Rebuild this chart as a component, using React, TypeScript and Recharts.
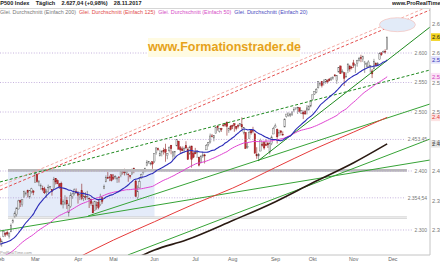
import React from "react";
import {
  ComposedChart,
  Bar,
  Line,
  XAxis,
  YAxis,
  ReferenceLine,
  ReferenceArea,
  ReferenceDot,
} from "recharts";

// closes Nov 2016 - Jan 2017, only used to seed the 20/50 day averages
const histCloses = [
  2111.72, 2097.94, 2088.66, 2085.18, 2131.52, 2139.56, 2163.26, 2167.48, 2164.45, 2164.2, 2180.39,
  2176.94, 2187.12, 2181.9, 2198.18, 2202.94, 2204.72, 2213.35, 2201.72, 2204.66, 2198.81,
  2191.08, 2191.95, 2204.71, 2212.23, 2241.35, 2246.19, 2259.53, 2256.96, 2271.72, 2253.28, 2262.03,
  2258.07, 2262.53, 2270.76, 2265.18, 2260.96, 2263.79, 2268.88, 2249.92, 2249.26, 2238.83,
  2257.83, 2270.75, 2269.0, 2276.98, 2268.9, 2268.9, 2275.32, 2270.44, 2274.64, 2267.89, 2271.89,
  2263.69, 2271.31, 2265.2, 2280.07, 2298.37, 2296.68, 2294.69, 2280.9, 2278.87,
];

// SP500 daily candles 01.02.2017 - 28.11.2017: [open, high, low, close]
const candles: number[][] = [
  // Feb
  [2285.6, 2289.1, 2272.4, 2279.6], [2276.7, 2284.0, 2271.7, 2280.9], [2288.5, 2298.3, 2287.9, 2297.4],
  [2294.3, 2296.2, 2288.6, 2292.6], [2295.9, 2299.4, 2290.2, 2293.1], [2289.6, 2295.9, 2285.4, 2294.7],
  [2296.7, 2311.1, 2296.6, 2307.9], [2312.3, 2319.2, 2311.1, 2316.1], [2321.7, 2331.6, 2321.4, 2328.3],
  [2326.1, 2337.6, 2322.2, 2337.6], [2335.6, 2351.3, 2334.8, 2349.3], [2349.6, 2351.3, 2338.9, 2347.2],
  [2343.0, 2351.2, 2339.6, 2351.2], [2354.9, 2366.7, 2354.9, 2365.4], [2361.1, 2365.1, 2358.3, 2362.8],
  [2367.5, 2368.3, 2355.1, 2363.8], [2355.7, 2367.3, 2352.9, 2367.3], [2365.2, 2371.5, 2361.9, 2369.8],
  [2366.1, 2367.8, 2359.0, 2363.6],
  // Mar
  [2380.1, 2401.0, 2380.1, 2396.0], [2394.8, 2394.8, 2380.2, 2381.9], [2380.9, 2383.9, 2374.4, 2383.1],
  [2375.2, 2378.8, 2368.0, 2375.3], [2370.7, 2375.1, 2365.5, 2368.4], [2369.8, 2373.1, 2361.0, 2363.0],
  [2363.5, 2369.1, 2354.5, 2364.9], [2372.5, 2376.9, 2363.0, 2372.6], [2371.6, 2374.4, 2368.5, 2373.5],
  [2368.6, 2368.6, 2358.2, 2365.5], [2370.3, 2390.0, 2368.9, 2385.3], [2387.7, 2388.1, 2377.2, 2381.4],
  [2383.7, 2385.7, 2377.6, 2378.3], [2378.2, 2379.6, 2369.7, 2373.5], [2379.3, 2381.9, 2341.9, 2344.0],
  [2343.0, 2351.8, 2336.5, 2348.5], [2346.0, 2358.9, 2342.1, 2346.0], [2350.4, 2356.2, 2335.7, 2344.0],
  [2329.1, 2344.9, 2322.3, 2341.6], [2339.8, 2363.8, 2337.6, 2358.6], [2356.5, 2363.4, 2352.9, 2361.1],
  [2361.3, 2370.4, 2358.6, 2368.1], [2364.8, 2370.4, 2362.6, 2362.7],
  // Apr
  [2362.3, 2365.9, 2344.7, 2358.8], [2354.8, 2360.5, 2350.7, 2360.2], [2366.6, 2378.4, 2350.5, 2353.0],
  [2353.8, 2364.2, 2348.9, 2357.5], [2356.6, 2363.8, 2350.7, 2355.5], [2357.2, 2366.4, 2351.5, 2357.2],
  [2353.9, 2355.2, 2337.3, 2353.8], [2352.2, 2352.7, 2341.2, 2344.9], [2342.0, 2348.3, 2329.0, 2329.0],
  [2332.6, 2349.1, 2332.5, 2349.0], [2342.5, 2348.4, 2334.5, 2342.2], [2346.8, 2352.6, 2335.1, 2338.2],
  [2342.7, 2361.4, 2340.9, 2355.8], [2354.7, 2356.2, 2344.5, 2348.7], [2370.3, 2377.0, 2369.2, 2374.2],
  [2381.5, 2392.5, 2381.2, 2388.6], [2389.0, 2398.2, 2386.8, 2387.5], [2389.7, 2392.1, 2382.7, 2388.8],
  [2393.7, 2393.7, 2382.4, 2384.2],
  // Mai
  [2388.5, 2394.5, 2384.8, 2388.3], [2391.1, 2392.9, 2385.8, 2391.2], [2386.5, 2389.8, 2379.8, 2388.1],
  [2389.8, 2391.4, 2380.4, 2389.5], [2392.4, 2399.3, 2389.4, 2399.3], [2399.9, 2401.4, 2393.9, 2399.4],
  [2401.6, 2403.9, 2392.4, 2396.9], [2396.8, 2399.7, 2392.8, 2399.6], [2394.8, 2395.7, 2381.7, 2394.4],
  [2392.4, 2392.4, 2387.2, 2390.9], [2394.0, 2404.1, 2393.9, 2402.3], [2404.6, 2405.8, 2396.1, 2400.7],
  [2383.0, 2384.9, 2356.2, 2357.0], [2354.7, 2375.7, 2352.7, 2365.7], [2371.4, 2389.1, 2370.4, 2381.7],
  [2387.2, 2395.5, 2386.9, 2394.0], [2397.0, 2400.9, 2393.9, 2398.4], [2401.4, 2405.6, 2398.0, 2404.4],
  [2409.5, 2418.7, 2408.0, 2415.1], [2414.5, 2416.7, 2412.2, 2415.8], [2411.7, 2415.3, 2409.4, 2412.9],
  [2415.6, 2416.0, 2403.6, 2411.8],
  // Jun
  [2415.7, 2430.1, 2413.5, 2430.1], [2431.3, 2440.2, 2427.7, 2439.1], [2437.8, 2439.6, 2434.3, 2436.1],
  [2425.4, 2436.2, 2425.4, 2429.3], [2432.0, 2435.3, 2424.8, 2433.1], [2434.3, 2439.3, 2427.9, 2433.8],
  [2436.4, 2446.2, 2415.7, 2431.8], [2425.9, 2430.4, 2420.0, 2429.4], [2434.2, 2441.5, 2431.3, 2440.4],
  [2443.8, 2443.8, 2428.3, 2437.9], [2424.1, 2434.0, 2418.5, 2432.5], [2431.2, 2433.2, 2422.9, 2433.2],
  [2442.6, 2453.8, 2441.8, 2453.5], [2450.7, 2450.7, 2436.6, 2437.0], [2439.3, 2442.2, 2430.7, 2435.6],
  [2437.4, 2441.6, 2433.3, 2434.5], [2434.7, 2441.4, 2431.1, 2438.3], [2443.3, 2450.4, 2437.0, 2439.1],
  [2436.3, 2440.2, 2419.4, 2419.4], [2428.7, 2443.0, 2428.0, 2440.7], [2442.4, 2442.7, 2405.7, 2419.7],
  [2429.2, 2432.7, 2421.7, 2423.4],
  // Jul
  [2431.4, 2439.2, 2428.7, 2429.0], [2430.8, 2434.9, 2422.1, 2432.5], [2423.4, 2424.3, 2407.7, 2409.8],
  [2413.5, 2426.9, 2413.5, 2425.2], [2424.5, 2432.0, 2422.3, 2427.4], [2427.4, 2429.3, 2412.8, 2425.5],
  [2435.8, 2445.8, 2435.8, 2443.3], [2445.0, 2449.3, 2441.7, 2447.8], [2449.2, 2463.5, 2446.7, 2459.3],
  [2459.5, 2462.8, 2457.2, 2459.1], [2455.9, 2460.9, 2450.3, 2460.6], [2463.9, 2473.8, 2463.9, 2473.8],
  [2475.6, 2477.6, 2468.4, 2473.5], [2467.4, 2472.5, 2465.1, 2472.5], [2472.0, 2473.1, 2466.3, 2469.9],
  [2477.9, 2481.2, 2474.9, 2477.1], [2480.0, 2481.7, 2474.9, 2477.8], [2482.8, 2484.0, 2459.9, 2475.4],
  [2469.1, 2473.5, 2464.7, 2472.1], [2475.9, 2478.0, 2468.5, 2470.3],
  // Aug
  [2477.1, 2478.5, 2471.1, 2476.4], [2480.4, 2480.4, 2466.5, 2477.6], [2476.0, 2476.0, 2468.9, 2472.2],
  [2476.9, 2480.0, 2472.1, 2476.8], [2477.1, 2481.0, 2475.9, 2480.9], [2478.4, 2490.9, 2470.3, 2474.9],
  [2465.4, 2474.4, 2462.1, 2474.0], [2465.4, 2465.4, 2437.8, 2438.2], [2441.0, 2448.1, 2437.9, 2441.3],
  [2455.0, 2468.2, 2455.0, 2465.8], [2468.7, 2468.9, 2461.6, 2464.6], [2468.6, 2474.9, 2463.9, 2468.1],
  [2463.0, 2465.0, 2430.0, 2430.0], [2427.6, 2440.3, 2420.7, 2425.6], [2425.5, 2430.6, 2417.4, 2428.4],
  [2433.8, 2454.8, 2433.7, 2452.5], [2444.9, 2448.9, 2441.4, 2444.0], [2447.9, 2450.4, 2436.2, 2439.0],
  [2444.7, 2454.0, 2442.2, 2443.1], [2447.4, 2449.1, 2439.0, 2444.2], [2431.9, 2449.2, 2428.2, 2446.3],
  [2446.1, 2460.3, 2443.8, 2457.6], [2462.7, 2475.0, 2462.7, 2471.7],
  // Sep
  [2474.4, 2480.4, 2473.9, 2476.6], [2470.4, 2472.0, 2446.6, 2457.9], [2463.8, 2469.6, 2459.2, 2465.5],
  [2468.1, 2468.6, 2460.3, 2465.1], [2462.3, 2467.1, 2459.4, 2461.4], [2474.5, 2489.0, 2474.5, 2488.1],
  [2491.9, 2496.8, 2490.4, 2496.5], [2493.9, 2498.4, 2492.1, 2498.4], [2494.6, 2498.4, 2491.4, 2495.6],
  [2495.7, 2500.2, 2493.2, 2500.2], [2502.5, 2508.3, 2499.9, 2503.9], [2506.3, 2507.8, 2503.2, 2506.7],
  [2506.8, 2508.9, 2496.7, 2508.2], [2507.2, 2507.2, 2499.0, 2500.6], [2497.3, 2503.5, 2496.5, 2502.2],
  [2499.4, 2502.5, 2488.0, 2496.7], [2501.0, 2503.5, 2495.1, 2496.8], [2503.3, 2511.8, 2495.9, 2507.0],
  [2503.4, 2510.8, 2502.9, 2510.1], [2510.0, 2519.4, 2508.0, 2519.4],
  // Okt
  [2521.2, 2529.2, 2520.4, 2529.1], [2530.3, 2535.1, 2528.9, 2534.6], [2533.5, 2540.5, 2531.8, 2537.7],
  [2540.9, 2552.5, 2540.0, 2552.1], [2547.4, 2549.4, 2543.8, 2549.3], [2551.4, 2551.8, 2541.6, 2544.7],
  [2550.0, 2555.2, 2544.9, 2550.6], [2550.6, 2555.2, 2548.0, 2555.2], [2552.9, 2555.3, 2548.3, 2550.9],
  [2555.7, 2557.7, 2552.1, 2553.2], [2555.6, 2559.5, 2552.6, 2557.6], [2557.2, 2559.7, 2554.7, 2559.4],
  [2562.9, 2564.1, 2559.7, 2561.3], [2553.4, 2562.4, 2547.9, 2562.1], [2567.6, 2575.4, 2567.6, 2575.2],
  [2578.1, 2578.3, 2564.3, 2565.0], [2568.7, 2572.2, 2565.6, 2569.1], [2566.5, 2567.4, 2544.0, 2557.2],
  [2560.1, 2567.1, 2559.8, 2560.4], [2570.3, 2583.0, 2565.9, 2581.1], [2577.8, 2580.0, 2568.3, 2572.8],
  [2576.0, 2578.3, 2572.2, 2575.3],
  // Nov
  [2583.2, 2588.4, 2574.9, 2579.4], [2579.5, 2581.1, 2566.2, 2579.9], [2581.9, 2588.4, 2576.8, 2587.8],
  [2587.5, 2593.4, 2585.7, 2591.1], [2592.1, 2597.0, 2584.4, 2590.6], [2588.7, 2595.5, 2585.0, 2594.4],
  [2584.0, 2586.5, 2566.3, 2584.6], [2580.2, 2583.8, 2575.6, 2582.3], [2576.5, 2587.7, 2574.5, 2584.8],
  [2577.8, 2579.7, 2566.6, 2578.9], [2569.5, 2572.8, 2557.5, 2564.6], [2573.0, 2590.1, 2573.0, 2585.6],
  [2582.9, 2584.0, 2577.6, 2578.9], [2579.5, 2584.6, 2578.2, 2582.1], [2589.2, 2601.2, 2589.2, 2599.0],
  [2600.3, 2600.9, 2595.2, 2597.1], [2600.4, 2604.2, 2600.4, 2602.4], [2602.7, 2606.4, 2598.9, 2601.4],
  [2605.9, 2627.7, 2605.4, 2627.0],
];

const monthTicks = [0, 19, 42, 61, 83, 105, 125, 148, 168, 190, 211];
const monthNames = ["Feb", "Mar", "Apr", "Mai", "Jun", "Jul", "Aug", "Sep", "Okt", "Nov", "Dec"];

// 125 / 200 day averages (trading day index -> value)
const ma125Days = [40, 61, 83, 105, 125, 148, 168, 190, 208];
const ma125Values = [2250, 2283, 2314, 2345, 2371, 2406, 2436, 2466, 2491];
const ma200Days = [75, 83, 100, 125, 148, 168, 190, 208];
const ma200Values = [2255, 2266, 2283, 2316, 2348, 2380, 2414, 2446];

const levels = [2600, 2550, 2500, 2453.45, 2400, 2354.54, 2300];
const axisTicks = [2300, 2350, 2400, 2450, 2500, 2550, 2600, 2650];

const boxStart = 4.3;
const boxEnd = 83;
const boxTop = 2400.98;
const boxBottom = 2322.25;
const boxLinesEnd = 218.6;

// trend lines: [day1, value1, day2, value2]
const redChannel = [
  [0, 2367.8, 231, 2672.9],
  [0, 2374.6, 231, 2679.7],
];
const greenDashed = [0, 2381.4, 231, 2571.2];
const greenLines = [
  [0, 2298.3, 231, 2418.6],
  [47.3, 2323.7, 231, 2513.6],
  [68.7, 2257.6, 231, 2454.2],
  [138.6, 2417, 231, 2644],
];

const de = (v: number, d = 0) => {
  const [a, b] = v.toFixed(d).split(".");
  return a.replace(/\B(?=(\d{3})+(?!\d))/g, ".") + (b ? "," + b : "");
};

const allCloses = [...histCloses, ...candles.map((c) => c[3])];
const sma = (n: number, i: number) => {
  const end = histCloses.length + i;
  let s = 0;
  for (let j = end - n + 1; j <= end; j++) s += allCloses[j];
  return s / n;
};

const rows = candles.map(([o, h, l, c], i) => {
  const a = ma125Days.indexOf(i);
  const b = ma200Days.indexOf(i);
  return {
    i,
    o,
    h,
    l,
    c,
    range: [l, h],
    ma20: sma(20, i),
    ma50: sma(50, i),
    ma125: a >= 0 ? ma125Values[a] : null,
    ma200: b >= 0 ? ma200Values[b] : null,
  };
});

const last = rows[rows.length - 1];

const Candle = (props: any) => {
  const { x, y, width, height, payload } = props;
  if (!payload) return null;
  const { o, h, l, c } = payload;
  const top0 = height < 0 ? y + height : y;
  const hh = Math.abs(height);
  const k = h > l ? hh / (h - l) : 0;
  const cx = x + width / 2;
  const up = c >= o;
  const bt = top0 + (h - Math.max(o, c)) * k;
  const bh = Math.max(Math.abs(o - c) * k, 0.7);
  return (
    <g>
      <line x1={cx} x2={cx} y1={top0} y2={top0 + hh} stroke={up ? "#5e5e5e" : "#8a1c1c"} strokeWidth={0.6} />
      <rect
        x={x}
        y={bt}
        width={width}
        height={bh}
        fill={up ? "#e4e4e4" : "#c0282d"}
        stroke={up ? "#626262" : "#8a1c1c"}
        strokeWidth={0.4}
      />
    </g>
  );
};

const tag = (text: string, color: string, bg: string) => (p: any) => (
  <g>
    <rect x={p.cx + 1} y={p.cy - 3.8} width={16} height={7.6} fill={bg} />
    <text x={p.cx + 2} y={p.cy + 2} fontSize={5.8} fill={color}>
      {text}
    </text>
  </g>
);

const levelLabel = (text: string) => (p: any) => (
  <text x={p.cx - 1} y={p.cy + 1.7} fontSize={5} fill="#777" textAnchor="end">
    {text}
  </text>
);

const legendItems = [
  { t: "Glei. Durchschnitt (Einfach 200)", c: "#777" },
  { t: "Glei. Durchschnitt (Einfach 125)", c: "#e24a4a" },
  { t: "Glei. Durchschnitt (Einfach 50)", c: "#d64bc6" },
  { t: "Glei. Durchschnitt (Einfach 20)", c: "#4b4bc0" },
];

export default function App() {
  const font = "'Liberation Sans', Arial, sans-serif";
  return (
    <div
      style={{
        position: "absolute",
        left: 0,
        top: 0,
        width: 440,
        height: 264,
        background: "#fff",
        overflow: "hidden",
        fontFamily: font,
      }}
    >
      <ComposedChart width={440} height={264} data={rows} margin={{ top: 8, right: 0, bottom: 0, left: 0 }}>
        <XAxis
          dataKey="i"
          type="number"
          domain={[0, 231]}
          allowDataOverflow
          ticks={monthTicks}
          interval={0}
          tickFormatter={(v) => monthNames[monthTicks.indexOf(v)]}
          height={9}
          tickSize={0}
          tickMargin={2}
          tickLine={false}
          axisLine={{ stroke: "#c4c4c4" }}
          tick={{ fontSize: 5.2, fill: "#666", fontFamily: font }}
        />
        <YAxis
          orientation="right"
          type="number"
          domain={[2257.6, 2676.3]}
          allowDataOverflow
          ticks={axisTicks}
          interval={0}
          tickFormatter={(v) => de(v)}
          width={10}
          tickSize={0}
          tickMargin={2}
          tickLine={false}
          axisLine={{ stroke: "#c4c4c4" }}
          tick={{ fontSize: 5.8, fill: "#777", fontFamily: font }}
        />

        <ReferenceArea
          x1={boxStart}
          x2={boxEnd}
          y1={boxBottom}
          y2={boxTop}
          fill="#dfe7f8"
          fillOpacity={0.85}
          stroke="none"
          ifOverflow="hidden"
        />
        <ReferenceLine
          segment={[{ x: boxStart, y: boxTop }, { x: boxLinesEnd, y: boxTop }]}
          stroke="#b9b9b9"
          strokeWidth={2.6}
          ifOverflow="hidden"
        />
        <ReferenceLine
          segment={[{ x: boxStart, y: boxBottom }, { x: boxLinesEnd, y: boxBottom }]}
          stroke="#c8c8c8"
          strokeWidth={0.8}
          ifOverflow="hidden"
        />
        <ReferenceLine
          segment={[{ x: boxStart, y: boxBottom - 2.5 }, { x: boxLinesEnd, y: boxBottom - 2.5 }]}
          stroke="#c8c8c8"
          strokeWidth={0.8}
          ifOverflow="hidden"
        />

        {levels.map((v) => {
          const txt = de(v, v % 1 ? 2 : 0);
          const endDay = (428 - txt.length * 2.55 - 2) / 1.861;
          return (
            <ReferenceLine
              key={"l" + v}
              segment={[{ x: 0, y: v }, { x: endDay, y: v }]}
              stroke="#b79fd6"
              strokeDasharray="1 1.6"
              strokeWidth={0.8}
              ifOverflow="hidden"
            />
          );
        })}
        {levels.map((v) => (
          <ReferenceDot
            key={"t" + v}
            x={230}
            y={v}
            r={0}
            ifOverflow="visible"
            shape={levelLabel(de(v, v % 1 ? 2 : 0))}
          />
        ))}

        {greenLines.map(([a, b, c, d], k) => (
          <ReferenceLine
            key={"g" + k}
            segment={[{ x: a, y: b }, { x: c, y: d }]}
            stroke={k === 3 ? "#1f8a1f" : "#36a336"}
            strokeWidth={1}
            ifOverflow="hidden"
          />
        ))}
        <ReferenceLine
          segment={[{ x: greenDashed[0], y: greenDashed[1] }, { x: greenDashed[2], y: greenDashed[3] }]}
          stroke="#1f8a1f"
          strokeDasharray="3 2"
          strokeWidth={1}
          ifOverflow="hidden"
        />
        {redChannel.map(([a, b, c, d], k) => (
          <ReferenceLine
            key={"r" + k}
            segment={[{ x: a, y: b }, { x: c, y: d }]}
            stroke={k === 0 ? "#e03a3a" : "#f2a09a"}
            strokeDasharray="3 2"
            strokeWidth={0.9}
            ifOverflow="hidden"
          />
        ))}

        <Line dataKey="ma200" stroke="#2a1a12" strokeWidth={1.6} dot={false} connectNulls type="monotone" isAnimationActive={false} />
        <Line dataKey="ma125" stroke="#e63b3b" strokeWidth={1} dot={false} connectNulls type="monotone" isAnimationActive={false} />
        <Line dataKey="ma50" stroke="#e043d2" strokeWidth={1} dot={false} type="monotone" isAnimationActive={false} />
        <Line dataKey="ma20" stroke="#2b2bb8" strokeWidth={1.1} dot={false} type="monotone" isAnimationActive={false} />
        <Bar dataKey="range" barSize={1.5} shape={Candle} isAnimationActive={false} />

        <ReferenceDot
          x={213.5}
          y={2648}
          r={0}
          ifOverflow="visible"
          shape={(p: any) => (
            <ellipse cx={p.cx} cy={p.cy} rx={18} ry={7} fill="#e2ebf8" stroke="#f5c2bb" strokeWidth={0.7} />
          )}
        />

        <ReferenceDot x={231} y={ma200Values[ma200Values.length - 1]} r={0} ifOverflow="visible" shape={tag(de(ma200Values[ma200Values.length - 1], 2), "#333", "#e8e8e8")} />
        <ReferenceDot x={231} y={ma125Values[ma125Values.length - 1]} r={0} ifOverflow="visible" shape={tag(de(ma125Values[ma125Values.length - 1], 2), "#e03a3a", "#fde3e3")} />
        <ReferenceDot x={231} y={last.ma50} r={0} ifOverflow="visible" shape={tag(de(last.ma50, 2), "#d040c0", "#fbe2f6")} />
        <ReferenceDot x={231} y={last.ma20} r={0} ifOverflow="visible" shape={tag(de(last.ma20, 2), "#3535b8", "#e3e3fb")} />
        <ReferenceDot x={231} y={last.c} r={0} ifOverflow="visible" shape={tag(de(last.c, 2), "#222", "#f2d21c")} />
      </ComposedChart>

      <div style={{ position: "absolute", left: 0, top: 7.5, width: 430, height: 0, borderTop: "1px solid #d6d6d6" }} />
      <div
        style={{
          position: "absolute",
          left: -3.5,
          top: 0,
          fontSize: 5.6,
          fontWeight: "bold",
          color: "#222",
          whiteSpace: "pre",
          lineHeight: "7px",
        }}
      >
        {"SP500 Index    Täglich    2.627,04 (+0,98%)    28.11.2017"}
      </div>
      <div
        style={{
          position: "absolute",
          right: 0,
          top: 0,
          fontSize: 5.6,
          fontWeight: "bold",
          color: "#222",
          whiteSpace: "pre",
          lineHeight: "7px",
          width: 48,
          overflow: "hidden",
        }}
      >
        www.ProRealTime.com
      </div>
      <div style={{ position: "absolute", left: 0, top: 9, whiteSpace: "pre", lineHeight: "7px", fontSize: 5.4 }}>
        {legendItems.map((it) => (
          <span key={it.t} style={{ color: it.c, marginRight: 3 }}>
            {it.t}
          </span>
        ))}
      </div>
      <div
        style={{
          position: "absolute",
          left: 148,
          top: 38,
          width: 152,
          height: 19,
          background: "#fffbe2",
          color: "#e6a21a",
          fontSize: 12.5,
          fontWeight: "bold",
          lineHeight: "19px",
          textAlign: "center",
        }}
      >
        www.Formationstrader.de
      </div>
      <div style={{ position: "absolute", left: 0, top: 250, fontSize: 4, color: "#999", lineHeight: "5px" }}>
        ProRealTime.com
      </div>
    </div>
  );
}
